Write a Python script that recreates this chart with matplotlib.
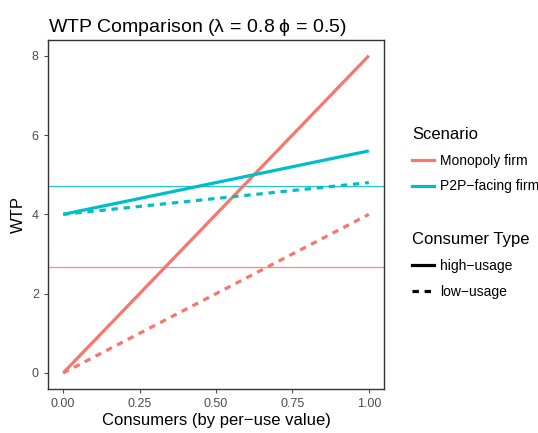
import matplotlib.pyplot as plt
from matplotlib.lines import Line2D

plt.rcParams['font.family'] = ['Liberation Sans', 'DejaVu Sans']
plt.rcParams['mathtext.fontset'] = 'custom'
plt.rcParams['mathtext.rm'] = 'Liberation Sans'
plt.rcParams['mathtext.it'] = 'Liberation Sans:italic'

# consumers (per-use value) and WTP for each scenario / consumer type
consumers = [0.0, 1.0]
mono_high = [0.0, 8.0]
mono_low = [0.0, 4.0]
p2p_high = [4.0, 5.6]
p2p_low = [4.0, 4.8]

# reference price levels
mono_price = 2.67
p2p_price = 4.72

x_ticks = [0.0, 0.25, 0.5, 0.75, 1.0]
x_labels = ['0.00', '0.25', '0.50', '0.75', '1.00']
y_ticks = [0, 2, 4, 6, 8]

red = '#F8766D'
cyan = '#00BFC4'

fig = plt.figure(figsize=(5.38, 4.33), dpi=100)
ax = fig.add_axes([0.089, 0.102, 0.625, 0.806])

lw = 2.3
ax.axhline(mono_price, color=red, lw=0.9, alpha=0.85)
ax.axhline(p2p_price, color=cyan, lw=0.9, alpha=0.85)
ax.plot(consumers, mono_high, color=red, lw=lw, solid_capstyle='butt')
ax.plot(consumers, mono_low, color=red, lw=lw, dashes=(2, 1.8))
ax.plot(consumers, p2p_high, color=cyan, lw=lw, solid_capstyle='butt')
ax.plot(consumers, p2p_low, color=cyan, lw=lw, dashes=(2, 1.8))

ax.set_xlim(-0.05, 1.05)
ax.set_ylim(-0.4, 8.4)
ax.set_xticks(x_ticks)
ax.set_xticklabels(x_labels)
ax.set_yticks(y_ticks)
ax.tick_params(colors='#4D4D4D', labelsize=9, length=3, width=0.8)
for s in ax.spines.values():
    s.set_color('#333333')
    s.set_linewidth(1.0)

ax.set_xlabel('Consumers (by per\u2212use value)', fontsize=12, labelpad=2)
ax.set_ylabel('WTP', fontsize=12, labelpad=4)
ax.set_title(r'WTP Comparison $\left(\mathrm{\lambda\,=\,0.8\;\phi\,=\,0.5}\right)$',
             fontsize=14, loc='left', x=0.0, pad=6)

# legends
h1 = [Line2D([], [], color=red, lw=lw), Line2D([], [], color=cyan, lw=lw)]
leg1 = fig.legend(h1, ['Monopoly firm', 'P2P\u2212facing firm'], title='Scenario',
                  loc='upper left', bbox_to_anchor=(0.766, 0.707), frameon=False,
                  fontsize=10, title_fontsize=12, handlelength=1.6,
                  handletextpad=0.4, labelspacing=0.85, alignment='left',
                  borderaxespad=0, borderpad=0)
h2 = [Line2D([], [], color='black', lw=lw),
      Line2D([], [], color='black', lw=lw, dashes=(2, 1.8))]
leg2 = fig.legend(h2, ['high\u2212usage', 'low\u2212usage'], title='Consumer Type',
                  loc='upper left', bbox_to_anchor=(0.766, 0.464), frameon=False,
                  fontsize=10, title_fontsize=12, handlelength=1.6,
                  handletextpad=0.4, labelspacing=0.85, alignment='left',
                  borderaxespad=0, borderpad=0)

fig.savefig('out.png', dpi=100)
